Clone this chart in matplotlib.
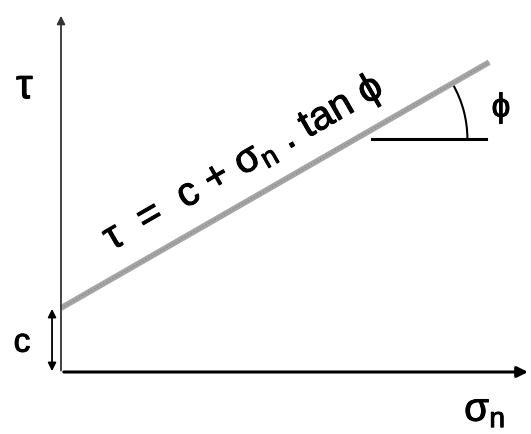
import numpy as np
import matplotlib
matplotlib.use("Agg")
import matplotlib.pyplot as plt
from matplotlib.patches import Arc
import matplotlib.patheffects as pe

plt.rcParams['font.family'] = ['Liberation Sans', 'DejaVu Sans']
plt.rcParams['mathtext.fontset'] = 'dejavusans'
plt.rcParams['mathtext.default'] = 'regular'

# envoltória de ruptura (unidades arbitrárias, c = 1)
sigma_linha = [0.0, 6.69]
tau_linha = [1.0, 4.84]
c_valor = 1.0
phi_graus = 29.9

# referência do ângulo phi
phi_centro = (4.63, 3.64)
phi_raio = 1.72
horiz_sigma = [4.86, 6.64]
horiz_tau = [3.64, 3.64]

# limites dos eixos
sigma_max = 7.34
tau_max = 5.61

fig = plt.figure(figsize=(5.31, 4.34), dpi=100)
ax = fig.add_axes([0, 0, 1, 1])
ax.set_xlim(-61/64, 470/64)
ax.set_ylim(-62/64, 372/64)
ax.axis('off')

negrito = [pe.withStroke(linewidth=0.7, foreground='black')]

# eixos
ax.annotate('', xy=(sigma_max, 0), xytext=(0, 0),
            arrowprops=dict(arrowstyle='-|>', color='black', lw=2.2, mutation_scale=16))
ax.annotate('', xy=(0, tau_max), xytext=(0, -0.02),
            arrowprops=dict(arrowstyle='-|>', color='#333333', lw=1.3, mutation_scale=12))

# reta
ax.plot(sigma_linha, tau_linha, color='#a5a5a5', lw=4.2, solid_capstyle='butt')
ax.plot(sigma_linha, tau_linha, color='#7a7a7a', lw=1.0, ls=(0, (1, 1.5)), alpha=0.6)

# ângulo
ax.plot(horiz_sigma, horiz_tau, color='black', lw=2.2)
ax.add_patch(Arc(phi_centro, 2*phi_raio, 2*phi_raio, theta1=0, theta2=phi_graus,
                 color='black', lw=1.5))

# coesão
ax.annotate('', xy=(-0.14, -0.03), xytext=(-0.14, c_valor + 0.03),
            arrowprops=dict(arrowstyle='<|-|>', color='black', lw=1.3, mutation_scale=12))

# textos
ax.text(-0.56, 4.45, r'$\tau$', fontsize=30, ha='center', va='center', path_effects=negrito)
ax.text(-0.61, 0.45, 'c', fontsize=24, ha='center', va='center', path_effects=negrito)
ax.text(6.62, -0.6, r'$\sigma_n$', fontsize=29, ha='center', va='center', path_effects=negrito)
ax.text(6.88, 4.12, r'$\phi$', fontsize=24, ha='center', va='center', path_effects=negrito)
ax.text(2.85, 3.27, r'$\tau$  =  c + $\sigma_n$ . tan $\phi$', fontsize=29,
        rotation=phi_graus, rotation_mode='anchor', ha='center', va='center',
        path_effects=negrito)

fig.savefig('out.png', dpi=100)
